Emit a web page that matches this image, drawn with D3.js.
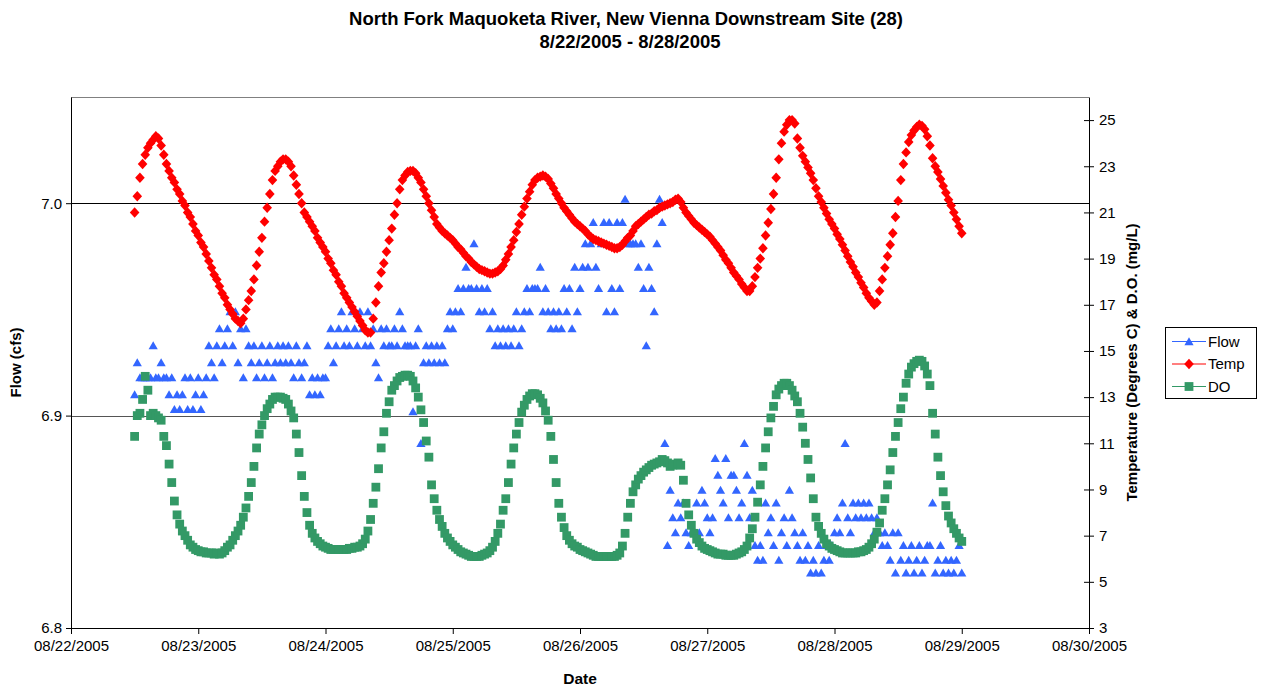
<!DOCTYPE html>
<html>
<head>
<meta charset="utf-8">
<script src="https://cdn.jsdelivr.net/npm/d3@7"></script>
<style>
  body { margin: 0; background: #fff; }
  svg text { font-family: "Liberation Sans", Arial, sans-serif; }
</style>
</head>
<body>
<div class="chart-container"></div>
<script>
// readings every 30 minutes, 8/22/2005 12:00 -> 8/29/2005 00:00
const startTime = new Date(2005, 7, 22, 12, 0);
const stepMinutes = 30;

const flowValues = [
  6.910, 6.925, 6.918, 6.918, 6.918, 6.918, 6.918, 6.933, 6.918, 6.918, 6.925, 6.918,
  6.918, 6.910, 6.918, 6.903, 6.910, 6.903, 6.910, 6.918, 6.903, 6.918, 6.903, 6.910,
  6.918, 6.903, 6.910, 6.918, 6.933, 6.925, 6.918, 6.933, 6.941, 6.925, 6.933, 6.941,
  6.949, 6.933, 6.949, 6.925, 6.941, 6.918, 6.941, 6.933, 6.925, 6.933, 6.918, 6.925,
  6.933, 6.918, 6.925, 6.933, 6.918, 6.925, 6.933, 6.925, 6.933, 6.925, 6.933, 6.925,
  6.918, 6.933, 6.925, 6.918, 6.925, 6.933, 6.910, 6.918, 6.910, 6.918, 6.910, 6.918,
  6.918, 6.933, 6.941, 6.925, 6.933, 6.941, 6.949, 6.933, 6.941, 6.933, 6.949, 6.941,
  6.933, 6.949, 6.941, 6.933, 6.949, 6.933, 6.941, 6.925, 6.918, 6.941, 6.933, 6.941,
  6.933, 6.933, 6.941, 6.933, 6.949, 6.941, 6.933, 6.933, 6.933, 6.902, 6.933, 6.941,
  6.887, 6.925, 6.933, 6.925, 6.933, 6.925, 6.933, 6.925, 6.933, 6.925, 6.941, 6.949,
  6.941, 6.949, 6.960, 6.949, 6.960, 6.970, 6.960, 6.960, 6.981, 6.960, 6.949, 6.960,
  6.949, 6.960, 6.941, 6.949, 6.933, 6.941, 6.933, 6.941, 6.933, 6.941, 6.933, 6.941,
  6.949, 6.933, 6.941, 6.949, 6.960, 6.949, 6.960, 6.960, 6.960, 6.970, 6.949, 6.960,
  6.949, 6.941, 6.949, 6.941, 6.949, 6.941, 6.960, 6.949, 6.960, 6.941, 6.970, 6.949,
  6.960, 6.970, 6.981, 6.970, 6.981, 6.991, 6.970, 6.960, 6.981, 6.991, 6.949, 6.991,
  6.960, 6.949, 6.991, 6.960, 6.991, 7.002, 6.981, 6.981, 6.981, 6.981, 6.970, 6.981,
  6.960, 6.933, 6.970, 6.960, 6.949, 6.981, 7.002, 6.991, 6.887, 6.839, 6.865, 6.852,
  6.845, 6.859, 6.852, 6.859, 6.845, 6.839, 6.845, 6.845, 6.859, 6.845, 6.865, 6.859,
  6.852, 6.845, 6.852, 6.880, 6.872, 6.865, 6.859, 6.880, 6.852, 6.872, 6.872, 6.865,
  6.852, 6.859, 6.887, 6.872, 6.852, 6.865, 6.839, 6.832, 6.839, 6.832, 6.859, 6.845,
  6.852, 6.839, 6.859, 6.832, 6.845, 6.852, 6.839, 6.865, 6.852, 6.845, 6.839, 6.832,
  6.845, 6.832, 6.839, 6.826, 6.832, 6.826, 6.839, 6.826, 6.832, 6.839, 6.832, 6.839,
  6.845, 6.852, 6.845, 6.859, 6.887, 6.852, 6.845, 6.859, 6.852, 6.859, 6.852, 6.859,
  6.852, 6.859, 6.852, 6.845, 6.852, 6.845, 6.839, 6.845, 6.839, 6.832, 6.845, 6.826,
  6.845, 6.832, 6.839, 6.826, 6.832, 6.839, 6.826, 6.832, 6.839, 6.826, 6.832, 6.839,
  6.839, 6.859, 6.826, 6.832, 6.839, 6.826, 6.832, 6.826, 6.832, 6.826, 6.832, 6.839, 6.826
];

const tempValues = [
  21.0, 21.7, 22.5, 23.1, 23.5, 23.8, 24.0, 24.15, 24.3, 24.2, 23.9, 23.5,
  23.1, 22.8, 22.5, 22.3, 22.0, 21.8, 21.5, 21.3, 21.0, 20.8, 20.5, 20.2,
  20.0, 19.7, 19.5, 19.2, 18.9, 18.6, 18.3, 18.1, 17.8, 17.5, 17.3, 17.0, 16.8, 16.6, 16.4, 16.3,
  16.2, 16.4, 16.8, 17.2, 17.6, 18.1, 18.7, 19.3, 19.9, 20.6, 21.2, 21.8, 22.4, 22.8, 23.0, 23.2,
  23.3, 23.3, 23.2, 23.0, 22.6, 22.2, 21.8, 21.4, 21.0, 20.8, 20.6, 20.4, 20.2, 19.9, 19.7, 19.5,
  19.3, 19.0, 18.8, 18.5, 18.3, 18.0, 17.8, 17.5, 17.3, 17.1, 16.9, 16.7, 16.5, 16.3, 16.1, 15.9,
  15.8, 15.8, 16.4, 17.1, 17.8, 18.4, 18.8, 19.3, 19.8, 20.3, 20.9, 21.4, 22.0, 22.4, 22.6, 22.75,
  22.8, 22.8, 22.7, 22.5, 22.3, 22.0, 21.7, 21.4, 21.1, 20.8, 20.5, 20.35, 20.2, 20.1, 20.0, 19.9,
  19.8, 19.65, 19.5, 19.4, 19.25, 19.1, 19.0, 18.85, 18.75, 18.65, 18.55, 18.5, 18.45, 18.4, 18.35, 18.35,
  18.4, 18.45, 18.55, 18.7, 18.95, 19.2, 19.5, 19.8, 20.15, 20.5, 20.9, 21.25, 21.6, 21.9, 22.2, 22.4,
  22.5, 22.55, 22.6, 22.55, 22.45, 22.25, 22.05, 21.8, 21.6, 21.4, 21.2, 21.05, 20.9, 20.75, 20.6, 20.5,
  20.4, 20.3, 20.2, 20.05, 19.95, 19.85, 19.8, 19.75, 19.7, 19.65, 19.6, 19.55, 19.5, 19.45, 19.45, 19.5,
  19.6, 19.75, 19.9, 20.0, 20.2, 20.4, 20.5, 20.6, 20.7, 20.8, 20.9, 20.95, 21.05, 21.1, 21.2, 21.25,
  21.3, 21.35, 21.4, 21.45, 21.55, 21.6, 21.45, 21.2, 21.0, 20.85, 20.7, 20.55, 20.45, 20.35, 20.25, 20.15,
  20.05, 19.95, 19.8, 19.65, 19.5, 19.35, 19.15, 18.95, 18.8, 18.6, 18.4, 18.25, 18.1, 17.9, 17.75, 17.6,
  17.6, 17.8, 18.2, 18.6, 19.0, 19.45, 20.0, 20.55, 21.15, 21.8, 22.5, 23.3, 24.0, 24.5, 24.8, 25.0,
  25.0, 24.85, 24.2, 23.8, 23.45, 23.2, 22.95, 22.7, 22.4, 22.05, 21.7, 21.45, 21.2, 20.95, 20.7, 20.5,
  20.3, 20.05, 19.85, 19.6, 19.35, 19.1, 18.85, 18.65, 18.4, 18.2, 17.95, 17.75, 17.5, 17.3, 17.15, 17.0,
  17.1, 17.6, 18.1, 18.6, 19.1, 19.6, 20.1, 20.8, 21.5, 22.4, 23.1, 23.6, 24.05, 24.35, 24.55, 24.7,
  24.8, 24.75, 24.6, 24.3, 23.9, 23.35, 23.0, 22.75, 22.45, 22.15, 21.85, 21.55, 21.3, 21.0, 20.7, 20.4, 20.1
];

const doValues = [
  11.3, 12.2, 12.3, 12.9, 13.9, 13.3, 12.2, 12.3, 12.2, 12.1, 12.0, 11.3,
  10.9, 10.1, 9.3, 8.5, 7.9, 7.5, 7.2, 7.0, 6.8, 6.6, 6.5, 6.4,
  6.35, 6.3, 6.3, 6.25, 6.25, 6.25, 6.2, 6.25, 6.2, 6.25, 6.35, 6.5, 6.6, 6.8, 7.0, 7.2,
  7.45, 7.8, 8.2, 8.7, 9.3, 10.0, 10.8, 11.4, 11.8, 12.2, 12.5, 12.7, 12.9, 13.0, 13.0, 13.0,
  12.95, 12.9, 12.7, 12.4, 12.1, 11.4, 10.6, 9.6, 8.7, 8.0, 7.45, 7.1, 6.9, 6.75, 6.65, 6.55,
  6.5, 6.45, 6.4, 6.4, 6.4, 6.4, 6.4, 6.4, 6.4, 6.45, 6.45, 6.5, 6.5, 6.55, 6.65, 6.85,
  7.2, 7.7, 8.4, 9.1, 9.9, 10.8, 11.5, 12.3, 12.8, 13.3, 13.5, 13.7, 13.85, 13.9, 13.95, 13.95,
  13.9, 13.7, 13.4, 13.0, 12.45, 11.9, 11.1, 10.4, 9.2, 8.6, 8.1, 7.7, 7.4, 7.1, 6.9, 6.75,
  6.6, 6.5, 6.4, 6.3, 6.25, 6.2, 6.15, 6.1, 6.1, 6.1, 6.1, 6.15, 6.2, 6.25, 6.35, 6.5,
  6.75, 7.1, 7.5, 8.1, 8.6, 9.3, 10.1, 10.8, 11.4, 11.9, 12.35, 12.65, 12.9, 13.05, 13.15, 13.15,
  13.1, 12.95, 12.75, 12.4, 12.0, 11.3, 10.3, 9.3, 8.4, 7.8, 7.35, 7.0, 6.8, 6.65, 6.55, 6.5,
  6.4, 6.35, 6.3, 6.25, 6.2, 6.15, 6.1, 6.1, 6.1, 6.1, 6.1, 6.1, 6.1, 6.1, 6.15, 6.25,
  6.55, 7.1, 7.8, 8.4, 8.9, 9.2, 9.45, 9.6, 9.75, 9.85, 9.95, 10.05, 10.1, 10.15, 10.2, 10.3,
  10.25, 10.15, 10.0, 10.05, 10.1, 10.15, 10.05, 9.4, 8.4, 7.9, 7.45, 7.1, 6.85, 6.7, 6.55, 6.45,
  6.4, 6.35, 6.3, 6.25, 6.2, 6.2, 6.2, 6.15, 6.15, 6.15, 6.15, 6.2, 6.25, 6.3, 6.4, 6.55,
  6.9, 7.3, 7.8, 8.45, 9.2, 10.0, 10.8, 11.5, 12.1, 12.6, 13.1, 13.35, 13.5, 13.6, 13.6, 13.5,
  13.3, 13.05, 12.8, 12.3, 11.7, 11.0, 10.3, 9.5, 8.6, 7.8, 7.4, 7.1, 6.85, 6.65, 6.55, 6.45,
  6.4, 6.35, 6.3, 6.25, 6.25, 6.25, 6.25, 6.25, 6.25, 6.3, 6.3, 6.35, 6.4, 6.5, 6.65, 6.85,
  7.15, 7.55, 8.1, 8.6, 9.2, 9.85, 10.6, 11.3, 11.9, 12.5, 13.0, 13.6, 14.0, 14.3, 14.45, 14.55,
  14.6, 14.55, 14.35, 14.0, 13.5, 12.3, 11.4, 10.4, 9.6, 8.9, 8.3, 7.85, 7.55, 7.3, 7.1, 6.9, 6.75
];

const dateTicks = ['08/22/2005','08/23/2005','08/24/2005','08/25/2005','08/26/2005','08/27/2005','08/28/2005','08/29/2005','08/30/2005'];
const flowTicks = [6.8, 6.9, 7.0];
const rightTicks = [3, 5, 7, 9, 11, 13, 15, 17, 19, 21, 23, 25];
const seriesNames = ['Flow', 'Temp', 'DO'];
const seriesColors = ['#3366FF', '#FF0000', '#339966'];

const parseDay = d3.timeParse('%m/%d/%Y');
const timeOf = i => new Date(startTime.getTime() + i * stepMinutes * 60000);

// marker shapes
const shapes = {
    Flow: 'M0,-4.2L4.6,3.8L-4.6,3.8Z',
    Temp: 'M0,-5.2L4.8,0L0,5.2L-4.8,0Z',
    DO: 'M-4.4,-4.4L4.4,-4.4L4.4,4.4L-4.4,4.4Z'
};

function setupCanvas(){
    const svg_width = 1261;
    const svg_height = 690;
    const plot = {left: 71, right: 1089, top: 97, bottom: 628};

    const svg = d3.select('.chart-container')
                  .append('svg')
                  .attr('width', svg_width)
                  .attr('height', svg_height);

    const xScale = d3.scaleTime()
                     .domain([parseDay(dateTicks[0]), parseDay(dateTicks[dateTicks.length-1])])
                     .range([plot.left, plot.right]);
    const yFlow = d3.scaleLinear().domain([6.8, 7.05]).range([plot.bottom, plot.top]);
    const yRight = d3.scaleLinear().domain([3, 26]).range([plot.bottom, plot.top]);

    // plot frame top
    svg.append('line')
       .attr('x1', plot.left).attr('x2', plot.right)
       .attr('y1', plot.top + 0.5).attr('y2', plot.top + 0.5)
       .style('stroke', '#808080');

    // gridlines from the flow axis
    svg.append('g').attr('class', 'grid')
       .selectAll('line').data(flowTicks.slice(1)).join('line')
       .attr('x1', plot.left).attr('x2', plot.right)
       .attr('y1', d => Math.round(yFlow(d)) + 0.5)
       .attr('y2', d => Math.round(yFlow(d)) + 0.5)
       .style('stroke', d => d === 7.0 ? '#000' : '#555')
       .style('stroke-width', 1);

    // axes
    const xAxis = d3.axisBottom(xScale)
                    .tickValues(dateTicks.map(parseDay))
                    .tickFormat(d3.timeFormat('%m/%d/%Y'))
                    .tickSizeInner(6).tickSizeOuter(0).tickPadding(6);
    const xg = svg.append('g').attr('class', 'xaxis')
                  .attr('transform', `translate(0, ${plot.bottom})`)
                  .call(xAxis);

    const yAxisL = d3.axisLeft(yFlow).tickValues(flowTicks)
                     .tickFormat(d3.format('.1f'))
                     .tickSizeInner(5).tickSizeOuter(0).tickPadding(4);
    const ylg = svg.append('g').attr('class', 'yaxis')
                   .attr('transform', `translate(${plot.left}, 0)`)
                   .call(yAxisL);

    const yAxisR = d3.axisRight(yRight).tickValues(rightTicks)
                     .tickSizeInner(5).tickSizeOuter(0).tickPadding(5);
    const yrg = svg.append('g').attr('class', 'yaxis-right')
                   .attr('transform', `translate(${plot.right}, 0)`)
                   .call(yAxisR);
    yrg.selectAll('.tick line').attr('x1', -5);

    [xg, ylg, yrg].forEach(g => {
        g.selectAll('path.domain').style('stroke', '#000');
        g.selectAll('.tick line').style('stroke', '#000');
        g.selectAll('.tick text')
         .style('font-size', '15px')
         .style('fill', '#000');
    });
    xg.select('path.domain').attr('d', `M${plot.left},0.5H${plot.right}`);

    // series markers: flow first, then temp, then DO on top
    const series = [
        {name: 'Flow', values: flowValues, scale: yFlow},
        {name: 'Temp', values: tempValues, scale: yRight},
        {name: 'DO', values: doValues, scale: yRight}
    ];

    const chartGroup = svg.append('g').attr('class', 'markers');
    series.forEach((s, k) => {
        chartGroup.append('g')
                  .attr('class', `series ${s.name.toLowerCase()}`)
                  .selectAll('path')
                  .data(s.values)
                  .join('path')
                  .attr('d', shapes[s.name])
                  .attr('transform', (d, i) => `translate(${xScale(timeOf(i))}, ${s.scale(d)})`)
                  .style('fill', seriesColors[k]);
    });

    // titles
    const header = svg.append('g').attr('class', 'header')
                      .attr('text-anchor', 'middle')
                      .style('font-weight', 'bold')
                      .style('font-size', '18.5px');
    header.append('text').attr('x', 626).attr('y', 25)
          .text('North Fork Maquoketa River, New Vienna Downstream Site (28)');
    header.append('text').attr('x', 630).attr('y', 48)
          .text('8/22/2005 - 8/28/2005');

    svg.append('text')
       .attr('x', (plot.left + plot.right) / 2).attr('y', 684)
       .attr('text-anchor', 'middle')
       .style('font-weight', 'bold').style('font-size', '15.5px')
       .text('Date');

    svg.append('text')
       .attr('transform', `translate(21, ${(plot.top + plot.bottom) / 2}) rotate(-90)`)
       .attr('text-anchor', 'middle')
       .style('font-weight', 'bold').style('font-size', '15px')
       .text('Flow (cfs)');

    svg.append('text')
       .attr('transform', `translate(1137, ${(plot.top + plot.bottom) / 2}) rotate(-90)`)
       .attr('text-anchor', 'middle')
       .style('font-weight', 'bold').style('font-size', '15px')
       .text('Temperature (Degrees C) & D.O. (mg/L)');

    // legend
    const legend = svg.append('g').attr('class', 'legend')
                      .attr('transform', 'translate(1165, 327)');
    legend.append('rect')
          .attr('x', 0.5).attr('y', 0.5)
          .attr('width', 91).attr('height', 71)
          .style('fill', '#fff').style('stroke', '#000');
    const items = legend.selectAll('.legend-item')
                        .data(seriesNames).join('g')
                        .attr('class', 'legend-item')
                        .attr('transform', (d, i) => `translate(0, ${14.5 + i * 22.5})`);
    items.append('line')
         .attr('x1', 7).attr('x2', 41)
         .style('stroke', (d, i) => seriesColors[i]).style('stroke-width', 1.2);
    items.append('path')
         .attr('d', d => shapes[d])
         .attr('transform', 'translate(24, 0)')
         .style('fill', (d, i) => seriesColors[i]);
    items.append('text')
         .attr('x', 43).attr('y', 0)
         .attr('dy', '0.35em')
         .style('font-size', '15px')
         .text(d => d);
}

setupCanvas();
</script>
</body>
</html>
